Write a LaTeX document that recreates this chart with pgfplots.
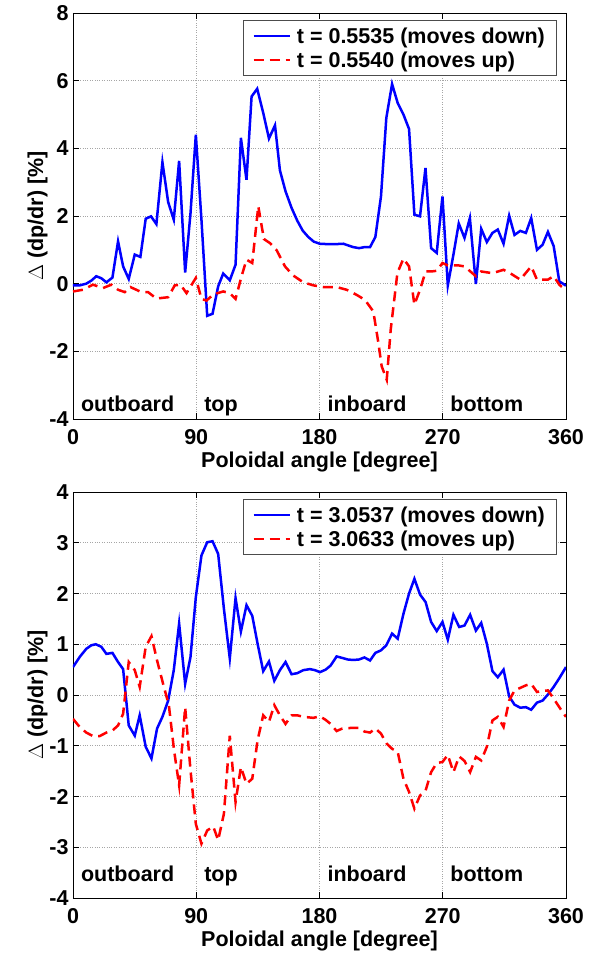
\documentclass[border=0pt]{standalone}
\usepackage{fontspec}
\setmainfont{Liberation Sans}
\usepackage{pgfplots}
\pgfplotsset{compat=1.18}

\newcommand{\bigf}{\fontsize{21.5}{26}\selectfont\bfseries}

\pgfplotsset{
  mlab/.style={
    scale only axis,
    width=493pt, height=406pt,
    xmin=0, xmax=360,
    xtick={0,90,180,270,360},
    grid=major,
    major grid style={dotted, gray!70, line width=0.6pt},
    axis line style={line width=0.8pt},
    every tick/.style={black, line width=0.8pt},
    major tick length=6pt,
    /pgf/number format/assume math mode=true,
    ticklabel style={font=\bigf},
    label style={font=\bigf},
    xlabel={Poloidal angle [degree]},
    ylabel={$\Delta$ (dp/dr) [\%]},
    ylabel style={font=\bigf, yshift=-5pt},
    xlabel style={yshift=0pt},
    xticklabel style={yshift=-7pt},
    yticklabel style={xshift=-1pt},
    legend cell align=left,
    legend style={font=\bigf, draw=black!70, line width=0.6pt,
      at={(0.98,0.982)}, anchor=north east,
      inner xsep=9pt, inner ysep=5pt, row sep=3pt,
      /tikz/every odd column/.append style={column sep=4pt}},
    legend image code/.code={\draw[#1] (0pt,0pt) -- (36pt,0pt);},
    blue line/.style={blue, line width=2.5pt},
    red line/.style={red, line width=2.5pt, dash pattern=on 10pt off 6pt},
  }
}

\begin{document}
\begin{tikzpicture}
\useasboundingbox (-73pt,-537pt) rectangle (540pt,419pt);

\begin{axis}[mlab, at={(0pt,0pt)}, anchor=south west,
  ymin=-4, ymax=8, ytick={-4,-2,0,2,4,6,8}]
\addplot[blue line] coordinates {
(0,-0.05) (4.9,-0.05) (9.7,0) (13.4,0.09) (17,0.22) (20.7,0.16) (24.4,0.04)
(28.8,0.18) (32.9,1.25) (36.6,0.51) (40.7,0.14) (45.1,0.86) (49.2,0.79)
(53.1,1.92) (57,1.99) (60.9,1.76) (65.3,3.59) (69.5,2.41) (73.6,1.89)
(77.5,3.63) (81.9,0.33) (85.8,2.08) (89.7,4.40) (93.8,1.89) (98,-0.95)
(101.9,-0.89) (106,-0.08) (109.7,0.30) (114.5,0.10) (118.7,0.56) (122.6,4.31)
(126.7,3.07) (130.4,5.53) (134.5,5.76) (138.9,5.05) (143.1,4.29) (147.5,4.68)
(151.1,3.35) (155.2,2.73) (159.6,2.24) (163.8,1.86) (167.7,1.57) (171.8,1.38)
(175.9,1.24) (180.3,1.18) (185.2,1.17) (192.5,1.17) (197.4,1.18) (201,1.13)
(204.7,1.08) (208.9,1.05) (212.8,1.08) (216.9,1.08) (220.8,1.38) (224.9,2.58)
(228.8,4.90) (233,5.90) (237.1,5.34) (241.3,5.0) (245.4,4.57) (249.3,2.04)
(253.4,1.99) (257.4,3.42) (261.5,1.05) (265.6,0.91) (269.8,2.58) (273.7,-0.05)
(277.8,0.86) (281.7,1.78) (285.9,1.35) (289.8,1.94) (294.2,-0.01) (298.1,1.62)
(302.2,1.23) (306.3,1.50) (310.2,1.60) (314.4,1.18) (318.5,2.01) (322.4,1.44)
(326.6,1.56) (330.7,1.50) (334.6,1.94) (338.8,1.00) (342.9,1.15) (346.8,1.53)
(351,1.11) (355.1,0.07) (360,-0.06)
};
\addlegendentry{t = 0.5535 (moves down)}
\addplot[red line] coordinates {
(0,-0.23) (7.3,-0.18) (14.6,-0.03) (21.9,-0.13) (28,-0.03) (32.9,-0.18)
(37.8,-0.25) (41.9,-0.10) (50,-0.25) (54.8,-0.25) (60.9,-0.44) (69.5,-0.40)
(74.3,-0.05) (78.5,-0.03) (82.9,-0.28) (89.7,0.17) (93.8,-0.45) (97.5,-0.50)
(102.4,-0.32) (109.7,-0.23) (114.5,-0.28) (118.7,-0.45) (123.1,0.22)
(126.7,0.71) (130.9,0.61) (135.3,2.29) (139.4,1.32) (143.8,1.20) (148.7,0.99)
(154.8,0.51) (160.8,0.24) (168.2,0.04) (175.5,-0.05) (182.8,-0.10)
(192.5,-0.10) (199.8,-0.18) (207.1,-0.33) (213.2,-0.48) (219.3,-0.82)
(223,-1.75) (225.4,-2.44) (229.1,-2.84) (232,-1.36) (236.9,0.32) (241.3,0.74)
(245.4,0.51) (249.3,-0.62) (253.4,-0.18) (257.5,0.36) (261.5,0.36)
(265.6,0.38) (269.8,0.61) (273.7,0.54) (281.5,0.54) (285.9,0.51) (294.2,0.22)
(298.1,0.36) (306.3,0.31) (314.4,0.41) (319.2,0.31) (326.6,0.12) (334.6,0.51)
(338.8,0.12) (346.8,0.12) (351,0.22) (355.1,-0.03) (360,-0.2)
};
\addlegendentry{t = 0.5540 (moves up)}
\node[anchor=base west, font=\bigf] at (axis cs:3.3,-3.77) {outboard};
\node[anchor=base west, font=\bigf] at (axis cs:93.3,-3.77) {top};
\node[anchor=base west, font=\bigf] at (axis cs:183.3,-3.77) {inboard};
\node[anchor=base west, font=\bigf] at (axis cs:273,-3.77) {bottom};
\end{axis}

\begin{axis}[mlab, at={(0pt,-479pt)}, anchor=south west,
  ymin=-4, ymax=4, ytick={-4,-3,...,4}]
\addplot[blue line] coordinates {
(0,0.55) (4.9,0.75) (9.7,0.91) (13.4,0.98) (16.6,1.0) (20.7,0.95) (24.4,0.81)
(28.8,0.83) (32.9,0.65) (36.6,0.51) (40.7,-0.60) (45.1,-0.80) (48.7,-0.40)
(53.1,-1.02) (57.3,-1.25) (61.4,-0.66) (65.3,-0.43) (69.5,-0.11) (73.6,0.49)
(77.5,1.41) (81.9,0.22) (85.8,0.75) (89.7,1.93) (93.8,2.75) (98,3.01)
(101.9,3.03) (106,2.78) (110.2,1.70) (114.5,0.72) (118.7,1.91) (122.6,1.25)
(126.7,1.77) (130.9,1.56) (134.8,1.01) (138.9,0.47) (143.1,0.66) (147,0.28)
(151.1,0.49) (155.2,0.65) (159.6,0.41) (163.8,0.43) (168.2,0.49) (173,0.51)
(176.7,0.49) (180.3,0.45) (184.5,0.50) (188.1,0.58) (192.5,0.76) (196.7,0.73)
(200.6,0.70) (204.7,0.69) (208.9,0.70) (212.8,0.74) (216.9,0.68) (220.8,0.83)
(224.9,0.88) (228.8,0.98) (233,1.21) (237.1,1.11) (241.3,1.60) (245.4,2.0)
(249.3,2.29) (253.4,1.98) (257.5,1.83) (261.5,1.44) (265.6,1.26) (269.8,1.44)
(273.7,1.09) (277.8,1.58) (282,1.34) (285.9,1.37) (290,1.58) (294.2,1.27)
(298.1,1.42) (302.2,1.01) (306.3,0.47) (310.2,0.35) (314.4,0.50) (318.5,-0.03)
(322.4,-0.19) (326.6,-0.25) (330.7,-0.24) (334.6,-0.29) (338.8,-0.15)
(342.9,-0.11) (346.8,0.01) (351,0.16) (355.1,0.33) (360,0.55)
};
\addlegendentry{t = 3.0537 (moves down)}
\addplot[red line] coordinates {
(0,-0.47) (4.9,-0.63) (9.7,-0.74) (14.6,-0.81) (19.5,-0.81) (24.4,-0.74)
(28.8,-0.70) (32.9,-0.60) (36.6,-0.37) (40.7,0.65) (45.1,0.49) (48.7,0.16)
(53.1,0.95) (57.3,1.16) (61.4,0.68) (65.8,0.22) (70,-0.20) (73.8,-1.09)
(77.5,-1.78) (81.9,-0.24) (85.8,-1.48) (89.7,-2.54) (93.8,-2.93) (98,-2.67)
(102.4,-2.59) (106,-2.86) (110.2,-2.34) (114.5,-0.80) (118.7,-2.11)
(122.6,-1.42) (126.7,-1.75) (130.9,-1.65) (134.8,-0.89) (138.9,-0.40)
(143.1,-0.53) (147,-0.20) (151.1,-0.40) (155.2,-0.57) (159.6,-0.40)
(163.8,-0.40) (168.2,-0.43) (175.5,-0.45) (180.3,-0.42) (184.5,-0.49)
(188.1,-0.57) (192.5,-0.71) (196.7,-0.66) (202.3,-0.65) (208.9,-0.65)
(212.8,-0.72) (216.9,-0.74) (220.8,-0.66) (224.9,-0.76) (228.8,-0.95)
(233,-1.06) (237.1,-1.12) (241.3,-1.65) (245.4,-1.91) (249.3,-2.24)
(253.4,-1.98) (257.5,-1.88) (261.5,-1.52) (265.6,-1.34) (269.8,-1.32)
(273.7,-1.18) (277.8,-1.52) (282,-1.21) (285.9,-1.30) (290,-1.52)
(294.2,-1.22) (298.1,-1.29) (302.2,-1.02) (306.3,-0.50) (310.2,-0.43)
(314.4,-0.63) (318.5,-0.11) (322.4,0.09) (326.6,0.14) (330.7,0.19)
(334.6,0.22) (338.8,0.06) (342.9,0.08) (346.8,0.09) (351,-0.07) (355.1,-0.24)
(360,-0.43)
};
\addlegendentry{t = 3.0633 (moves up)}
\node[anchor=base west, font=\bigf] at (axis cs:3.3,-3.68) {outboard};
\node[anchor=base west, font=\bigf] at (axis cs:93.3,-3.68) {top};
\node[anchor=base west, font=\bigf] at (axis cs:183.3,-3.68) {inboard};
\node[anchor=base west, font=\bigf] at (axis cs:273,-3.68) {bottom};
\end{axis}
\end{tikzpicture}
\end{document}
